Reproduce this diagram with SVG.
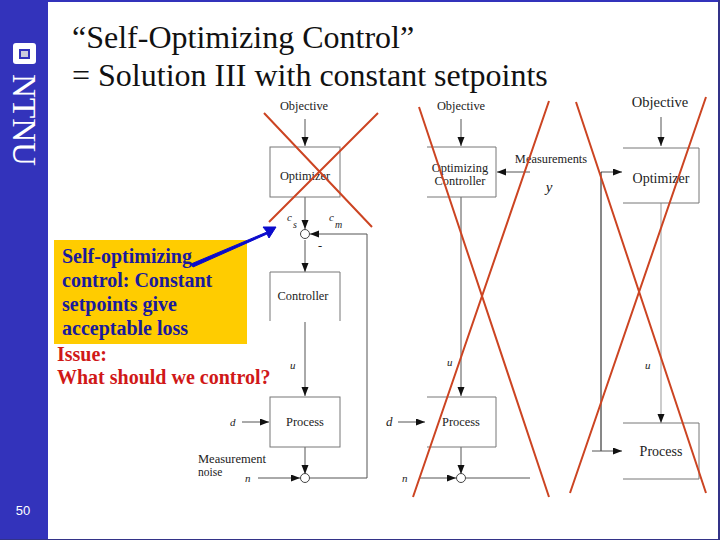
<svg xmlns="http://www.w3.org/2000/svg" width="720" height="540" viewBox="0 0 720 540">
<defs>
<marker id="ah" markerUnits="userSpaceOnUse" markerWidth="10" markerHeight="8" refX="9" refY="3.5" orient="auto"><path d="M0 0L9 3.5L0 7Z" fill="#111"/></marker>
</defs>
<style>
.d{font-family:"Liberation Serif",serif;fill:#222;font-size:12.4px}
.big{font-size:14px}
.i{font-style:italic;font-size:11px}
.t{font-family:"Liberation Serif",serif;font-size:32px;fill:#111}
.b{font-family:"Liberation Serif",serif;font-size:20px;font-weight:bold;fill:#1a1a9c}
.r{font-family:"Liberation Serif",serif;font-size:20px;font-weight:bold;fill:#d01818}
.box{fill:none;stroke:#777;stroke-width:1}
.l{fill:none;stroke:#555;stroke-width:1}
.a{fill:none;stroke:#555;stroke-width:1;marker-end:url(#ah)}
.x{stroke:#cc4422;stroke-width:2;fill:none}
</style>
<rect width="720" height="540" fill="#fff"/>
<g id="frame">
<rect x="0" y="0" width="48" height="540" fill="#3333bb"/>
<rect x="0" y="0" width="720" height="2" fill="#3333bb"/>
<rect x="0" y="539" width="720" height="1" fill="#333388"/>
<rect x="718" y="0" width="2" height="540" fill="#333388"/>
<rect x="13" y="43" width="23" height="21" rx="3" fill="#fff"/>
<rect x="19" y="49" width="11" height="10" fill="#3333bb"/>
<rect x="21" y="51" width="7" height="6" fill="#ccd"/>
<text transform="translate(13,74) rotate(90)" font-family="Liberation Serif, serif" font-size="34" fill="#fff" textLength="92" lengthAdjust="spacingAndGlyphs">NTNU</text>
<text x="23" y="515" text-anchor="middle" font-family="Liberation Sans, sans-serif" font-size="13" fill="#fff">50</text>
</g>
<g id="title">
<text class="t" x="72" y="48">“Self-Optimizing Control”</text>
<text class="t" x="72" y="86">= Solution III with constant setpoints</text>
</g>
<g id="callout">
<rect x="54" y="240" width="193" height="104" fill="#ffcc00"/>
<text class="b" x="62" y="263">Self-optimizing</text>
<text class="b" x="62" y="287">control: Constant</text>
<text class="b" x="62" y="311">setpoints give</text>
<text class="b" x="62" y="335">acceptable loss</text>
<text class="r" x="57" y="361">Issue:</text>
<text class="r" x="57" y="384">What should we control?</text>
</g>
<g id="connectors">
<path class="a" d="M305 119V146"/>
<path class="a" d="M305 197V229"/>
<path class="a" d="M367 234H310"/>
<path class="a" d="M305 240V272"/>
<path class="a" d="M305 322V396"/>
<path class="a" d="M242 422H269"/>
<path class="a" d="M305 447V474"/>
<path class="a" d="M258 478H300"/>
<path class="l" d="M310 478H367V234"/>
<circle cx="305" cy="234" r="4.500" fill="#fff" stroke="#444"/>
<circle cx="305" cy="478" r="4.500" fill="#fff" stroke="#444"/>
<path class="a" d="M461 119V146"/>
<path class="a" d="M530 172H497"/>
<path class="a" d="M461 197V396"/>
<path class="a" d="M398 422H425"/>
<path class="a" d="M461 447V474"/>
<path class="a" d="M420 478H456"/>
<path class="l" d="M466 478H530"/>
<circle cx="461" cy="478" r="4.500" fill="#fff" stroke="#444"/>
<path class="a" d="M661 117V146"/>
<path class="a" d="M601 172H622"/>
<path fill="none" stroke="#111" d="M601 172V451"/>
<path class="a" d="M592 451H622"/>
<path class="a" d="M661 203V423" style="stroke:#999"/>
</g>
<g id="optimizer1"><rect class="box" x="270" y="147" width="70" height="50"/><text class="d" x="305" y="180" text-anchor="middle">Optimizer</text></g>
<g id="controller1"><path class="box" d="M270 321V272H340V321"/><text class="d" x="303" y="300" text-anchor="middle">Controller</text></g>
<g id="process1"><rect class="box" x="270" y="397" width="70" height="50"/><text class="d" x="305" y="426" text-anchor="middle">Process</text></g>
<g id="optctl"><path class="box" d="M427 147H496V197H427"/><text class="d" x="460" y="172" text-anchor="middle">Optimizing</text><text class="d" x="460" y="185" text-anchor="middle">Controller</text></g>
<g id="process2"><path class="box" d="M427 397H496V447H427"/><text class="d" x="461" y="426" text-anchor="middle">Process</text></g>
<g id="optimizer3"><path class="box" d="M623 148H699V203H623"/><text class="d big" x="661" y="183" text-anchor="middle">Optimizer</text></g>
<g id="process3"><path class="box" d="M623 423H699V479H623"/><text class="d big" x="661" y="456" text-anchor="middle">Process</text></g>
<g id="labels">
<text class="d" x="304" y="110" text-anchor="middle">Objective</text>
<text class="d" x="461" y="110" text-anchor="middle">Objective</text>
<text class="d big" x="660" y="107" text-anchor="middle" style="font-size:14.500px">Objective</text>
<text class="d" x="551" y="163" text-anchor="middle">Measurements</text>
<text x="549" y="192" text-anchor="middle" font-family="Liberation Serif, serif" font-style="italic" font-size="15" fill="#222">y</text>
<text class="d i" x="287" y="221">c</text><text class="d i" x="293" y="228" style="font-size:10px">s</text>
<text class="d i" x="329" y="221">c</text><text class="d i" x="335" y="228" style="font-size:10px">m</text>
<text class="d" x="318" y="249">-</text>
<text class="d i" x="290" y="369">u</text>
<text class="d i" x="447" y="366">u</text>
<text class="d i" x="645" y="369">u</text>
<text class="d i" x="230" y="426">d</text>
<text class="d i" x="386" y="426" style="font-size:13px">d</text>
<text class="d" x="198" y="463" style="font-size:12.500px">Measurement</text>
<text class="d" x="198" y="476" style="font-size:11.500px">noise</text>
<text class="d i" x="245" y="482">n</text>
<text class="d i" x="402" y="482">n</text>
</g>
<g id="crosses">
<path class="x" d="M264 113L372 227M269 222L378 113"/>
<path class="x" d="M419 107L549 497M413 497L549 101"/>
<path class="x" d="M576 102L706 493M570 493L706 97"/>
</g>
<g id="pointer">
<path d="M191 264L267 232L263 227L276 227L269 238L267 234L193 267Z" fill="#0a0acc" stroke="#0a0acc"/>
</g>
</svg>
